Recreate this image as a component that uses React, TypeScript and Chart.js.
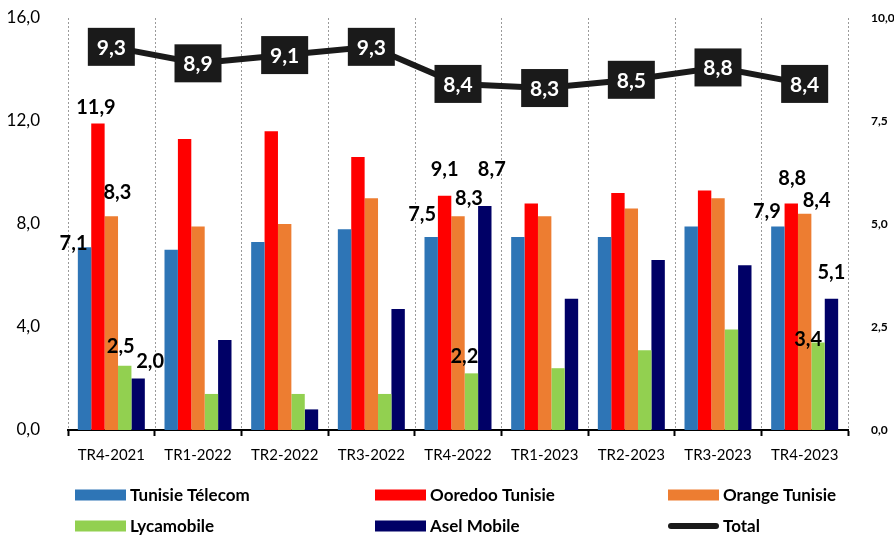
import React, { useEffect, useRef } from "react";
import { Chart, registerables } from "chart.js";

Chart.register(...registerables);

const CATEGORIES = ["TR4-2021", "TR1-2022", "TR2-2022", "TR3-2022", "TR4-2022", "TR1-2023", "TR2-2023", "TR3-2023", "TR4-2023"];
const TUNISIE_TELECOM = [7.1, 7.0, 7.3, 7.8, 7.5, 7.5, 7.5, 7.9, 7.9];
const OOREDOO = [11.9, 11.3, 11.6, 10.6, 9.1, 8.8, 9.2, 9.3, 8.8];
const ORANGE = [8.3, 7.9, 8.0, 9.0, 8.3, 8.3, 8.6, 9.0, 8.4];
const LYCAMOBILE = [2.5, 1.4, 1.4, 1.4, 2.2, 2.4, 3.1, 3.9, 3.4];
const ASEL = [2.0, 3.5, 0.8, 4.7, 8.7, 5.1, 6.6, 6.4, 5.1];
const TOTAL = [9.3, 8.9, 9.1, 9.3, 8.4, 8.3, 8.5, 8.8, 8.4];

const LEFT_TICKS = [0, 4, 8, 12, 16];
const RIGHT_TICKS = [0, 2.5, 5, 7.5, 10];

const SERIES_NAMES = ["Tunisie Télecom", "Ooredoo Tunisie", "Orange Tunisie", "Lycamobile", "Asel Mobile", "Total"];
const COLORS = ["#2E75B6", "#FF0000", "#ED7D31", "#92D050", "#000066", "#1a1a1a"];

// label offsets (dx, dy) relative to bar top centre, keyed "series-index"
const LABEL_OFFSETS: Record<string, [number, number]> = {
  "0-0": [-11, -4], "1-0": [-2, -16], "2-0": [6, -24], "3-0": [-4, -19], "4-0": [12, -17],
  "0-4": [-9, -22], "1-4": [0, -26], "2-4": [11, -18], "3-4": [-7, -17], "4-4": [7, -36],
  "0-8": [-11, -15], "1-8": [1, -25], "2-8": [12, -13], "3-8": [-10, -3], "4-8": [0, -26],
};

const FONT = "Lato, 'Noto Sans', sans-serif";
const fmt = (v: number) => v.toFixed(1).replace(".", ",");

export default function App() {
  const ref = useRef<HTMLCanvasElement | null>(null);
  useEffect(() => {
    document.body.style.margin = "0";
    const canvas = ref.current!;
    const vgrid = {
      id: "vgrid",
      beforeDatasetsDraw(chart: any) {
        const ctx = chart.ctx;
        const x = chart.scales.x;
        const { top, bottom } = chart.chartArea;
        const half = (x.getPixelForValue(1) - x.getPixelForValue(0)) / 2;
        ctx.save();
        ctx.strokeStyle = "#9a9a9a";
        ctx.lineWidth = 1;
        ctx.setLineDash([2, 2]);
        for (let i = 0; i <= CATEGORIES.length; i++) {
          const px = Math.round(x.getPixelForValue(0) - half + i * 2 * half) + 0.5;
          ctx.beginPath();
          ctx.moveTo(px, top);
          ctx.lineTo(px, bottom);
          ctx.stroke();
        }
        ctx.restore();
      },
    };
    const labels = {
      id: "labels",
      afterDatasetsDraw(chart: any) {
        const ctx = chart.ctx;
        ctx.save();
        ctx.textAlign = "center";
        ctx.textBaseline = "middle";
        for (let s = 0; s < 5; s++) {
          const meta = chart.getDatasetMeta(s);
          const data = chart.data.datasets[s].data as number[];
          meta.data.forEach((el: any, i: number) => {
            const off = LABEL_OFFSETS[`${s}-${i}`];
            if (!off) return;
            ctx.font = `bold 20px ${FONT}`;
            ctx.fillStyle = "#000";
            ctx.fillText(fmt(data[i]), el.x + off[0], el.y + off[1]);
          });
        }
        const lm = chart.getDatasetMeta(5);
        lm.data.forEach((el: any, i: number) => {
          const w = 47, h = 38;
          ctx.fillStyle = "#1a1a1a";
          ctx.fillRect(el.x - w / 2, el.y - h / 2, w, h);
          ctx.fillStyle = "#fff";
          ctx.font = `bold 21px ${FONT}`;
          ctx.fillText(fmt(TOTAL[i]), el.x, el.y + 1);
        });
        ctx.restore();
      },
    };
    const legend = {
      id: "customLegend",
      afterDraw(chart: any) {
        const ctx = chart.ctx;
        const cols = [75, 375, 668];
        const rows = [495, 526];
        ctx.save();
        ctx.textBaseline = "middle";
        ctx.textAlign = "left";
        ctx.font = `bold 17px ${FONT}`;
        SERIES_NAMES.forEach((name, k) => {
          const cx = cols[k % 3];
          const cy = rows[Math.floor(k / 3)];
          if (k === 5) {
            ctx.strokeStyle = COLORS[k];
            ctx.lineWidth = 6;
            ctx.lineCap = "round";
            ctx.beginPath();
            ctx.moveTo(cx + 3, cy);
            ctx.lineTo(cx + 48, cy);
            ctx.stroke();
          } else {
            ctx.fillStyle = COLORS[k];
            ctx.fillRect(cx, cy - 5.5, 51, 11);
          }
          ctx.fillStyle = "#000";
          ctx.fillText(name, cx + 55, cy + 1);
        });
        ctx.restore();
      },
    };
    const barSets = [TUNISIE_TELECOM, OOREDOO, ORANGE, LYCAMOBILE, ASEL].map((d, k) => ({
      type: "bar" as const,
      label: SERIES_NAMES[k],
      data: d,
      backgroundColor: COLORS[k],
      borderWidth: 0,
      yAxisID: "y",
      order: 1,
      categoryPercentage: 0.773,
      barPercentage: 1.0,
    }));
    const chart = new Chart(canvas, {
      type: "bar",
      data: {
        labels: CATEGORIES,
        datasets: [
          ...barSets,
          {
            type: "line" as const,
            label: SERIES_NAMES[5],
            data: TOTAL,
            borderColor: COLORS[5],
            borderWidth: 6,
            pointRadius: 0,
            yAxisID: "y1",
            order: 0,
            tension: 0,
          },
        ] as any,
      },
      options: {
        animation: false,
        responsive: false,
        maintainAspectRatio: false,
        layout: { padding: { top: 18, bottom: 60, left: 0, right: 0 } },
        plugins: { legend: { display: false }, tooltip: { enabled: false } },
        scales: {
          x: {
            grid: { display: true, drawOnChartArea: false, drawTicks: true, tickLength: 6, tickColor: "#000", tickWidth: 2, color: "#000" },
            border: { display: true, color: "#000", width: 2 },
            ticks: { color: "#000", font: { family: FONT, size: 15 }, padding: 10, maxRotation: 0 },
            afterFit(scale: any) { scale.height = 45; scale.paddingLeft = 0; scale.paddingRight = 0; },
          },
          y: {
            position: "left",
            min: 0,
            max: 16,
            afterBuildTicks(scale: any) { scale.ticks = LEFT_TICKS.map((v) => ({ value: v })); },
            grid: { display: false },
            border: { display: false },
            ticks: { color: "#000", font: { family: FONT, size: 17 }, padding: 20, callback: (v: any) => fmt(Number(v)) },
            afterFit(scale: any) { scale.width = 68; scale.paddingTop = 0; scale.paddingBottom = 0; },
          },
          y1: {
            position: "right",
            min: 0,
            max: 10,
            afterBuildTicks(scale: any) { scale.ticks = RIGHT_TICKS.map((v) => ({ value: v })); },
            grid: { display: false },
            border: { display: false },
            ticks: { color: "#000", font: { family: FONT, size: 12, weight: "bold" }, padding: 15, callback: (v: any) => fmt(Number(v)) },
            afterFit(scale: any) { scale.width = 46; scale.paddingTop = 0; scale.paddingBottom = 0; },
          },
        },
      } as any,
      plugins: [vgrid, labels, legend],
    });
    return () => chart.destroy();
  }, []);
  return <canvas ref={ref} width={894} height={535} style={{ display: "block" }} />;
}
